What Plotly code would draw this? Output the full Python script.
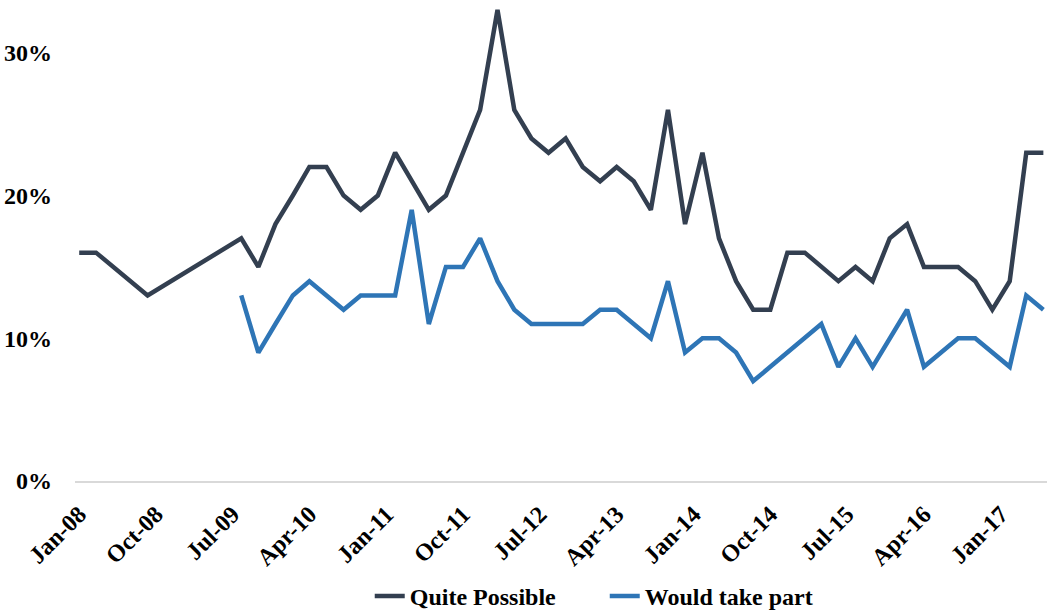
import plotly.graph_objects as go

# Survey dates (first of month) and shares of respondents
survey_dates = [
    "2008-01-01", "2008-03-01", "2008-09-01",
    "2009-08-01", "2009-10-01", "2009-12-01",
    "2010-02-01", "2010-04-01", "2010-06-01", "2010-08-01", "2010-10-01", "2010-12-01",
    "2011-02-01", "2011-04-01", "2011-06-01", "2011-08-01", "2011-10-01", "2011-12-01",
    "2012-02-01", "2012-04-01", "2012-06-01", "2012-08-01", "2012-10-01", "2012-12-01",
    "2013-02-01", "2013-04-01", "2013-06-01", "2013-08-01", "2013-10-01", "2013-12-01",
    "2014-02-01", "2014-04-01", "2014-06-01", "2014-08-01", "2014-10-01", "2014-12-01",
    "2015-02-01", "2015-04-01", "2015-06-01", "2015-08-01", "2015-10-01", "2015-12-01",
    "2016-02-01", "2016-04-01", "2016-06-01", "2016-08-01", "2016-10-01", "2016-12-01",
    "2017-02-01", "2017-04-01", "2017-06-01",
]

quite_possible = [
    0.16, 0.16, 0.13,
    0.17, 0.15, 0.18,
    0.20, 0.22, 0.22, 0.20, 0.19, 0.20,
    0.23, 0.21, 0.19, 0.20, 0.23, 0.26,
    0.33, 0.26, 0.24, 0.23, 0.24, 0.22,
    0.21, 0.22, 0.21, 0.19, 0.26, 0.18,
    0.23, 0.17, 0.14, 0.12, 0.12, 0.16,
    0.16, 0.15, 0.14, 0.15, 0.14, 0.17,
    0.18, 0.15, 0.15, 0.15, 0.14, 0.12,
    0.14, 0.23, 0.23,
]

would_take_part = [
    None, None, None,
    0.13, 0.09, 0.11,
    0.13, 0.14, 0.13, 0.12, 0.13, 0.13,
    0.13, 0.19, 0.11, 0.15, 0.15, 0.17,
    0.14, 0.12, 0.11, 0.11, 0.11, 0.11,
    0.12, 0.12, 0.11, 0.10, 0.14, 0.09,
    0.10, 0.10, 0.09, 0.07, 0.08, 0.09,
    0.10, 0.11, 0.08, 0.10, 0.08, 0.10,
    0.12, 0.08, 0.09, 0.10, 0.10, 0.09,
    0.08, 0.13, 0.12,
]

y_ticks = [0, 0.10, 0.20, 0.30]

FONT = "Liberation Serif"
DARK = "#333F50"
BLUE = "#2E75B6"

fig = go.Figure()
fig.add_trace(go.Scatter(
    x=survey_dates, y=quite_possible, name="Quite Possible",
    mode="lines", line=dict(color=DARK, width=4.5),
))
fig.add_trace(go.Scatter(
    x=survey_dates, y=would_take_part, name="Would take part",
    mode="lines", line=dict(color=BLUE, width=4.5),
))

fig.update_layout(
    width=1061, height=611,
    margin=dict(l=75, r=14, t=0, b=130),
    paper_bgcolor="white", plot_bgcolor="white",
    font=dict(family=FONT, size=24, color="black"),
    showlegend=True,
    legend=dict(
        orientation="h", xref="paper", x=0.545, xanchor="center",
        yref="container", y=0.024, yanchor="middle",
        font=dict(family=FONT, size=24, color="black", weight="bold"),
        itemwidth=30, entrywidth=190, entrywidthmode="pixels",
    ),
)

fig.update_xaxes(
    type="date",
    range=["2007-12-17", "2017-06-14"],
    tick0="2008-01-01", dtick="M9", tickformat="%b-%y",
    tickangle=-45,
    tickfont=dict(family=FONT, size=24, color="black", weight="bold"),
    ticks="", ticklabelstandoff=8,
    showgrid=False, zeroline=False,
    showline=True, linecolor="#D9D9D9", linewidth=1.5,
)

fig.update_yaxes(
    range=[0, 0.337],
    tickvals=y_ticks, tickformat=".0%",
    tickfont=dict(family=FONT, size=24, color="black", weight="bold"),
    ticks="", ticklabelstandoff=22,
    showgrid=False, zeroline=False, showline=False,
)

fig.write_html("out.html")
